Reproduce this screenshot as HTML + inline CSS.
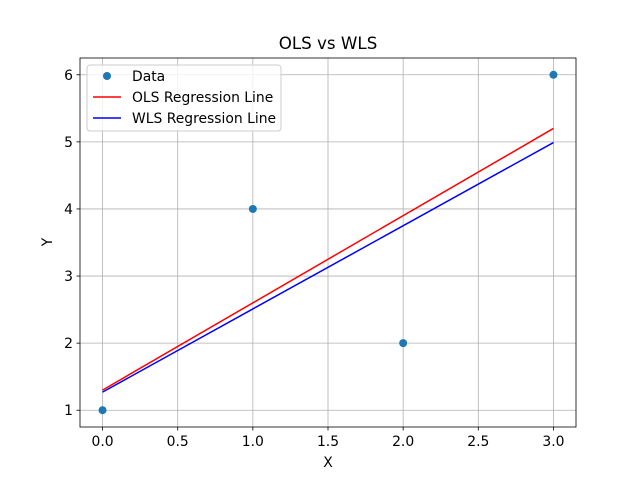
<!DOCTYPE html>
<html><head><meta charset="utf-8"><style>body{margin:0;background:#fff}svg{display:block;font-family:"DejaVu Sans","Liberation Sans",sans-serif}</style></head>
<body>
<svg id="chart" width="640" height="480"></svg>
<script>
const xTicks=[0,0.5,1,1.5,2,2.5,3];
const yTicks=[1,2,3,4,5,6];
const dataX=[0,1,2,3];
const dataY=[1,4,2,6];
const lineX=[0,3];
const olsY=[1.3,5.2];
const wlsY=[1.27,4.99];
const L=80,R=576,T=58,B=427;
const xmin=-0.15,xmax=3.15,ymin=0.75,ymax=6.25;
const sx=v=>L+(v-xmin)/(xmax-xmin)*(R-L);
const sy=v=>B-(v-ymin)/(ymax-ymin)*(B-T);
const svg=document.getElementById('chart');
const NS='http://www.w3.org/2000/svg';
const FS=13.9;
function mk(tag,attrs,parent){const e=document.createElementNS(NS,tag);for(const k in attrs)e.setAttribute(k,attrs[k]);(parent||svg).appendChild(e);return e;}
let t=mk('text',{x:328,y:49,'text-anchor':'middle','font-size':16.7});t.textContent='OLS vs WLS';


xTicks.forEach(v=>{const x=sx(v);
 const g=mk('line',{x1:x,x2:x,y1:T,y2:B,stroke:'#b0b0b0','stroke-width':0.8});
 
 
 mk('line',{x1:x,x2:x,y1:B,y2:B+3.5,stroke:'#000','stroke-width':0.8});
 const l=mk('text',{x:x,y:B+19,'text-anchor':'middle','font-size':FS});l.textContent=v.toFixed(1);
 
 });
yTicks.forEach(v=>{const y=sy(v);
 const g=mk('line',{x1:L,x2:R,y1:y,y2:y,stroke:'#b0b0b0','stroke-width':0.8});
 
 
 mk('line',{x1:L-3.5,x2:L,y1:y,y2:y,stroke:'#000','stroke-width':0.8});
 const l=mk('text',{x:L-7,y:y+5,'text-anchor':'end','font-size':FS});l.textContent=v;
 
 });
const ols=mk('line',{x1:sx(lineX[0]),y1:sy(olsY[0]),x2:sx(lineX[1]),y2:sy(olsY[1]),stroke:'red','stroke-width':1.5});


const wls=mk('line',{x1:sx(lineX[0]),y1:sy(wlsY[0]),x2:sx(lineX[1]),y2:sy(wlsY[1]),stroke:'blue','stroke-width':1.5});


dataX.forEach((v,i)=>{const c=mk('circle',{cx:sx(v),cy:sy(dataY[i]),r:4,fill:'#1f77b4'});
 
 });
const fr=mk('rect',{x:L,y:T,width:R-L,height:B-T,fill:'none',stroke:'#000','stroke-width':0.8});


let xl=mk('text',{x:328,y:467,'text-anchor':'middle','font-size':FS});xl.textContent='X';


let yl=mk('text',{x:0,y:0,'text-anchor':'middle','font-size':FS,transform:'translate(52,242) rotate(-90)'});yl.textContent='Y';


const lg=mk('g',{});


mk('rect',{x:87,y:65,width:194,height:66,rx:3,fill:'#fff','fill-opacity':0.8,stroke:'#ccc'},lg);
mk('circle',{cx:107,cy:76,r:4,fill:'#1f77b4'},lg);
mk('line',{x1:93,x2:121,y1:97,y2:97,stroke:'red','stroke-width':1.5},lg);
mk('line',{x1:93,x2:121,y1:118,y2:118,stroke:'blue','stroke-width':1.5},lg);
[['Data',81],['OLS Regression Line',102],['WLS Regression Line',123]].forEach(([s,y])=>{const e=mk('text',{x:132,y:y,'font-size':FS},lg);e.textContent=s;
 
 });
</script>
</body></html>
